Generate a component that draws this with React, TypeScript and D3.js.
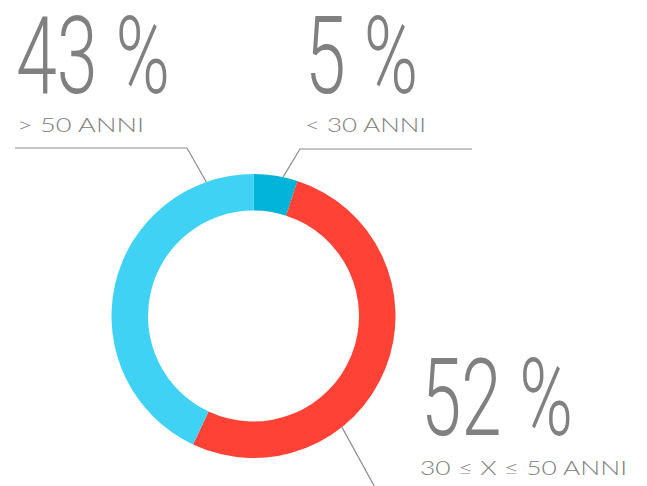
import React from "react";
import * as d3 from "d3";

const categories = ["< 30 ANNI", "30 ≤ X ≤ 50 ANNI", "> 50 ANNI"];
const values = [5, 52, 43];
const percentLabels = ["5 %", "52 %", "43 %"];
const colors = ["#02b3da", "#ff4136", "#40d2f5"];

const W = 647;
const H = 486;
const CX = 253.5;
const CY = 316;
const R_OUT = 142;
const R_IN = 105.5;

// annotation layout (per category index)
const annot = [
  { angle: 12, elbow: [300, 149], end: [472, 149], bigX: 305, bigY: 93, bigW: 113, subX: 305, subY: 132, subW: 121 },
  { angle: 141.5, elbow: null, end: null, bigX: 421, bigY: 435, bigW: 152, subX: 420, subY: 475, subW: 207 },
  { angle: 340.6, elbow: [187, 148], end: [15, 148], bigX: 16, bigY: 93, bigW: 154, subX: 17, subY: 132, subW: 127 },
];

export default function App() {
  const pie = d3.pie<number>().sort(null).value((d) => d)(values);
  const arc = d3.arc<d3.PieArcDatum<number>>().innerRadius(R_IN).outerRadius(R_OUT);
  const grey = "#808080";
  return (
    <svg width={W} height={H} style={{ position: "absolute", left: 0, top: 0, background: "#fff" }}>
      <g transform={`translate(${CX},${CY})`}>
        {pie.map((p, i) => (
          <path key={i} d={arc(p) as string} fill={colors[i]} />
        ))}
      </g>
      {annot.map((a, i) => {
        const rad = (a.angle * Math.PI) / 180;
        const ax = CX + R_OUT * Math.sin(rad);
        const ay = CY - R_OUT * Math.cos(rad);
        let pts: [number, number][];
        if (a.elbow && a.end) {
          pts = [[ax, ay], a.elbow as [number, number], a.end as [number, number]];
        } else {
          const slope = 1.82;
          const y2 = H + 20;
          pts = [[ax, ay], [ax + (y2 - ay) / slope, y2]];
        }
        const line = d3.line()(pts) as string;
        return <path key={"l" + i} d={line} fill="none" stroke="#8c8c8c" strokeWidth={1.2} />;
      })}
      {annot.map((a, i) => (
        <g key={"t" + i} fill={grey}>
          <text
            x={a.bigX}
            y={a.bigY}
            fontFamily="Roboto"
            fontWeight={300}
            fontSize={108}
            textLength={a.bigW}
            lengthAdjust="spacingAndGlyphs"
          >
            {percentLabels[i]}
          </text>
          <text
            x={a.subX}
            y={a.subY}
            fontFamily="Lato"
            fontWeight={300}
            fontSize={19}
            textLength={a.subW}
            lengthAdjust="spacingAndGlyphs"
          >
            {categories[i]}
          </text>
        </g>
      ))}
    </svg>
  );
}
